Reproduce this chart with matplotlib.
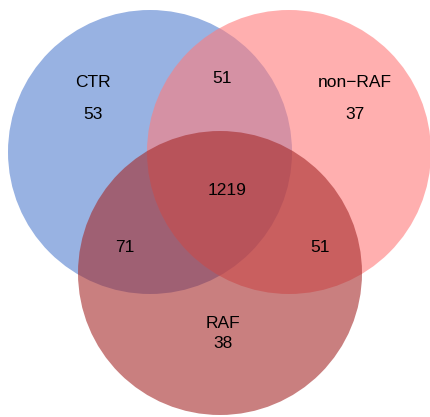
import matplotlib
matplotlib.use("Agg")
import matplotlib.pyplot as plt
from matplotlib.patches import Circle

set_names = ["CTR", "non\u2212RAF", "RAF"]
set_colors = ["#537fcf", "#ff7b7b", "#a52a2a"]
# region counts: only CTR, only non-RAF, only RAF, CTR&non-RAF, CTR&RAF, non-RAF&RAF, all
region_labels = ["100", "010", "001", "110", "101", "011", "111"]
region_counts = [53, 37, 38, 51, 71, 51, 1219]

W, H = 430, 417
fig = plt.figure(figsize=(W / 100, H / 100), dpi=100)
ax = fig.add_axes([0, 0, 1, 1])
ax.set_xlim(0, W)
ax.set_ylim(H, 0)
ax.set_aspect("equal")
ax.axis("off")

centers = [(150, 152), (289, 152), (220, 273)]
radius = 142
for (cx, cy), col in zip(centers, set_colors):
    ax.add_patch(Circle((cx, cy), radius, facecolor=col, edgecolor="none", alpha=0.6))

font = dict(family=["Liberation Sans", "DejaVu Sans"], fontsize=12.5, color="black",
            ha="center", va="center")

name_pos = [(93, 82), (355, 82), (223, 323)]
for name, (x, y) in zip(set_names, name_pos):
    ax.text(x, y, name, **font)

count_pos = {"100": (93, 114), "010": (355, 114), "001": (223, 344),
             "110": (222, 78), "101": (125, 247), "011": (320, 247), "111": (227, 190)}
for lab, cnt in zip(region_labels, region_counts):
    x, y = count_pos[lab]
    ax.text(x, y, str(cnt), **font)

fig.savefig("out.png", dpi=100)
